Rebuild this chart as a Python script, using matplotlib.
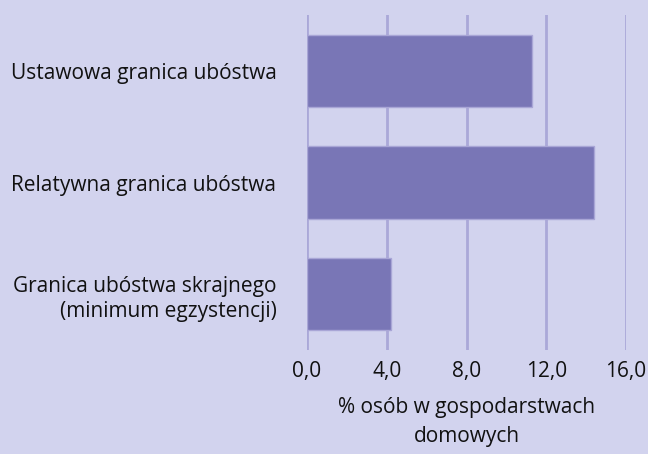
import numpy as np
import matplotlib.pyplot as plt

# ---- dane ----
kategorie = ['Ustawowa granica ubóstwa',
             'Relatywna granica ubóstwa',
             'Granica ubóstwa skrajnego\n(minimum egzystencji)']
wartosci = [11.3, 14.4, 4.2]
ticki = [0, 4, 8, 12, 16]
etykiety_x = ['0,0', '4,0', '8,0', '12,0', '16,0']

TLO = '#d2d3ee'
SLUPEK = '#7976b6'
SIATKA = '#aaa8d8'

plt.rcParams['font.family'] = ['Open Sans', 'DejaVu Sans']

fig = plt.figure(figsize=(6.48, 4.54), dpi=100, facecolor=TLO)
ax = fig.add_axes([307 / 648, 1 - 350 / 454, (626 - 307) / 648, (350 - 15) / 454])
ax.set_facecolor(TLO)

y = np.arange(len(kategorie))
ax.barh(y, wartosci, height=0.65, color=SLUPEK, edgecolor='#a9a6d6',
        linewidth=1, zorder=3)

ax.set_xlim(0, 16)
ax.set_ylim(2.5, -0.5)
ax.set_xticks(ticki)
ax.set_xticklabels(etykiety_x)
ax.set_yticks(y)
ax.set_yticklabels(kategorie, ha='right', multialignment='right', linespacing=1.3)
for t in ticki:
    ax.axvline(t, color=SIATKA, linewidth=2, zorder=1)

ax.tick_params(axis='both', length=0, labelsize=15, colors='#111111')
ax.tick_params(axis='y', pad=22)
ax.tick_params(axis='x', pad=8)
for s in ax.spines.values():
    s.set_visible(False)

ax.set_xlabel('% osób w gospodarstwach\ndomowych', fontsize=15,
              color='#111111', labelpad=11, linespacing=1.5)

fig.savefig('out.png', dpi=100, facecolor=TLO)
